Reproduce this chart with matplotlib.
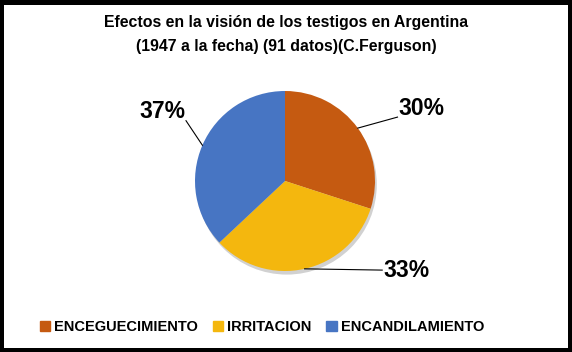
import matplotlib.pyplot as plt
import matplotlib.patches as mpatches
import numpy as np

categorias = ["ENCEGUECIMIENTO", "IRRITACION", "ENCANDILAMIENTO"]
porcentajes = [30, 33, 37]
colores = ["#C55A11", "#F4B70E", "#4775C3"]
# label positions (data coords of pie axes)
pos_etiquetas = [(1.53, 0.81), (1.36, -0.99), (-1.38, 0.77)]

fig = plt.figure(figsize=(5.72, 3.52), dpi=100, facecolor="black")
W, H = 572, 352
fig.patches.append(mpatches.Rectangle((4 / W, 4 / H), 564 / W, 343 / H,
                                      transform=fig.transFigure, facecolor="white",
                                      edgecolor="none", zorder=-5))

fig.text(0.5, 1 - 22 / H, "Efectos en la visión de los testigos en Argentina",
         ha="center", va="center", fontsize=11.4, fontweight="bold", family="Liberation Sans")
fig.text(0.5, 1 - 46 / H, "(1947 a la fecha) (91 datos)(C.Ferguson)",
         ha="center", va="center", fontsize=11.4, fontweight="bold", family="Liberation Sans")

ax = fig.add_axes([195 / W, 81 / H, 180 / W, 180 / H])
ax.set_zorder(2)

# soft shadow
ax.add_patch(mpatches.Circle((0.02, -0.04), 1.0, facecolor="#000000", alpha=0.18,
                             edgecolor="none", zorder=0, clip_on=False))
wedges, _ = ax.pie(porcentajes, colors=colores, startangle=90, counterclock=False,
                   radius=1.0, wedgeprops=dict(edgecolor="none"))
for w in wedges:
    w.set_zorder(2)
    w.set_clip_on(False)
ax.set_xlim(-1.0, 1.0)
ax.set_ylim(-1.0, 1.0)
ax.set_aspect("equal")
ax.axis("off")

for w, p, (tx, ty) in zip(wedges, porcentajes, pos_etiquetas):
    ang = np.deg2rad((w.theta1 + w.theta2) / 2)
    x0, y0 = np.cos(ang), np.sin(ang)
    ha = "left" if tx > 0 else "right"
    ex = tx - 0.28 if tx > 0 else tx + 0.28
    ey = ty - 0.1 if ty > 0 else ty
    ax.plot([x0, ex], [y0, ey], color="black", lw=0.8, zorder=3, clip_on=False)
    ax.text(tx - 0.27 if tx > 0 else tx + 0.27, ty, f"{p}%", ha=ha, va="center",
            fontsize=16.5, fontweight="bold", family="Liberation Sans", clip_on=False)

handles = [mpatches.Patch(color=c, label=l) for c, l in zip(colores, categorias)]
leg = fig.legend(handles=handles, loc="center", bbox_to_anchor=(262 / W, 25 / H), ncol=3,
                 frameon=False, handlelength=0.7, handleheight=0.7, handletextpad=0.3,
                 columnspacing=1.0, prop=dict(family="Liberation Sans", weight="bold", size=10.5))

fig.savefig("out.png", dpi=100, facecolor="black")
